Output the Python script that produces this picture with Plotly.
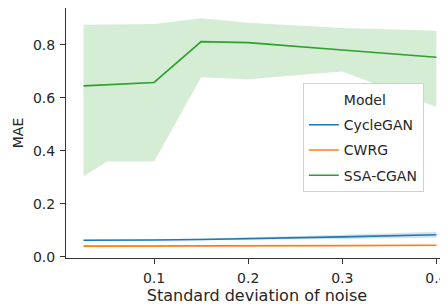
import plotly.graph_objects as go

noise = [0.025, 0.05, 0.1, 0.15, 0.2, 0.3, 0.4]

cyclegan_mean = [0.063, 0.063, 0.064, 0.066, 0.069, 0.076, 0.084]
cyclegan_low = [0.060, 0.060, 0.061, 0.062, 0.064, 0.068, 0.073]
cyclegan_high = [0.066, 0.066, 0.067, 0.070, 0.074, 0.084, 0.095]

cwrg_mean = [0.041, 0.041, 0.041, 0.042, 0.042, 0.043, 0.044]
cwrg_low = [0.039, 0.039, 0.039, 0.040, 0.040, 0.041, 0.042]
cwrg_high = [0.043, 0.043, 0.043, 0.044, 0.044, 0.045, 0.046]

ssa_mean = [0.645, 0.649, 0.658, 0.812, 0.808, 0.780, 0.753]
ssa_low = [0.303, 0.360, 0.360, 0.678, 0.670, 0.699, 0.565]
ssa_high = [0.875, 0.876, 0.878, 0.900, 0.883, 0.863, 0.853]

models = ["CycleGAN", "CWRG", "SSA-CGAN"]
colors = ["#1f77b4", "#ff7f0e", "#2ca02c"]
bands = ["rgba(31,119,180,0.2)", "rgba(255,127,14,0.2)", "rgba(44,160,44,0.2)"]
series = [
    (cyclegan_mean, cyclegan_low, cyclegan_high),
    (cwrg_mean, cwrg_low, cwrg_high),
    (ssa_mean, ssa_low, ssa_high),
]

x_ticks = [0.1, 0.2, 0.3, 0.4]
y_ticks = [0.0, 0.2, 0.4, 0.6, 0.8]

fig = go.Figure()
# legend header entry
fig.add_trace(go.Scatter(x=[None], y=[None], mode="lines", name="Model", legendgroup="g0",
                         line=dict(color="rgba(0,0,0,0)", width=2), showlegend=True))
for name, col, band, (m, lo, hi) in zip(models, colors, bands, series):
    fig.add_trace(go.Scatter(x=noise + noise[::-1], y=hi + lo[::-1], fill="toself",
                             fillcolor=band, line=dict(width=0), mode="lines",
                             showlegend=False, hoverinfo="skip"))
for i, (name, col, band, (m, lo, hi)) in enumerate(zip(models, colors, bands, series)):
    fig.add_trace(go.Scatter(x=noise, y=m, mode="lines", name=name, legendgroup=f"g{i+1}",
                             line=dict(color=col, width=1.6)))

fig.update_layout(
    width=440, height=299,
    margin=dict(l=58, r=0, t=0, b=49),
    paper_bgcolor="white", plot_bgcolor="white",
    font=dict(family="DejaVu Sans", size=13.5, color="#262626"),
    showlegend=True,
    legend=dict(x=0.62, y=0.70, xanchor="left", yanchor="top",
                bgcolor="white", bordercolor="#d0d0d0", borderwidth=1,
                font=dict(size=14), tracegroupgap=4, traceorder="grouped", itemwidth=30),
)
fig.update_xaxes(range=[0.0064, 0.4123], tickvals=x_ticks, ticktext=[f"{v:.1f}" for v in x_ticks],
                 showgrid=False, zeroline=False, showline=True, linecolor="#333",
                 linewidth=1, mirror=True, ticks="outside", ticklen=5, tickcolor="#333",
                 automargin=False, tickfont=dict(size=14), ticklabelstandoff=2,
                 title=dict(text="Standard deviation of noise", standoff=4))
fig.update_yaxes(range=[-0.0038, 0.9386], tickvals=y_ticks, ticktext=[f"{v:.1f}" for v in y_ticks],
                 showgrid=False, zeroline=False, showline=True, linecolor="#333",
                 linewidth=1, ticks="outside", ticklen=5, tickcolor="#333",
                 automargin=False, tickfont=dict(size=14), ticklabelstandoff=2,
                 title=dict(text="MAE", font=dict(size=14), standoff=6))

fig.write_html("out.html")
